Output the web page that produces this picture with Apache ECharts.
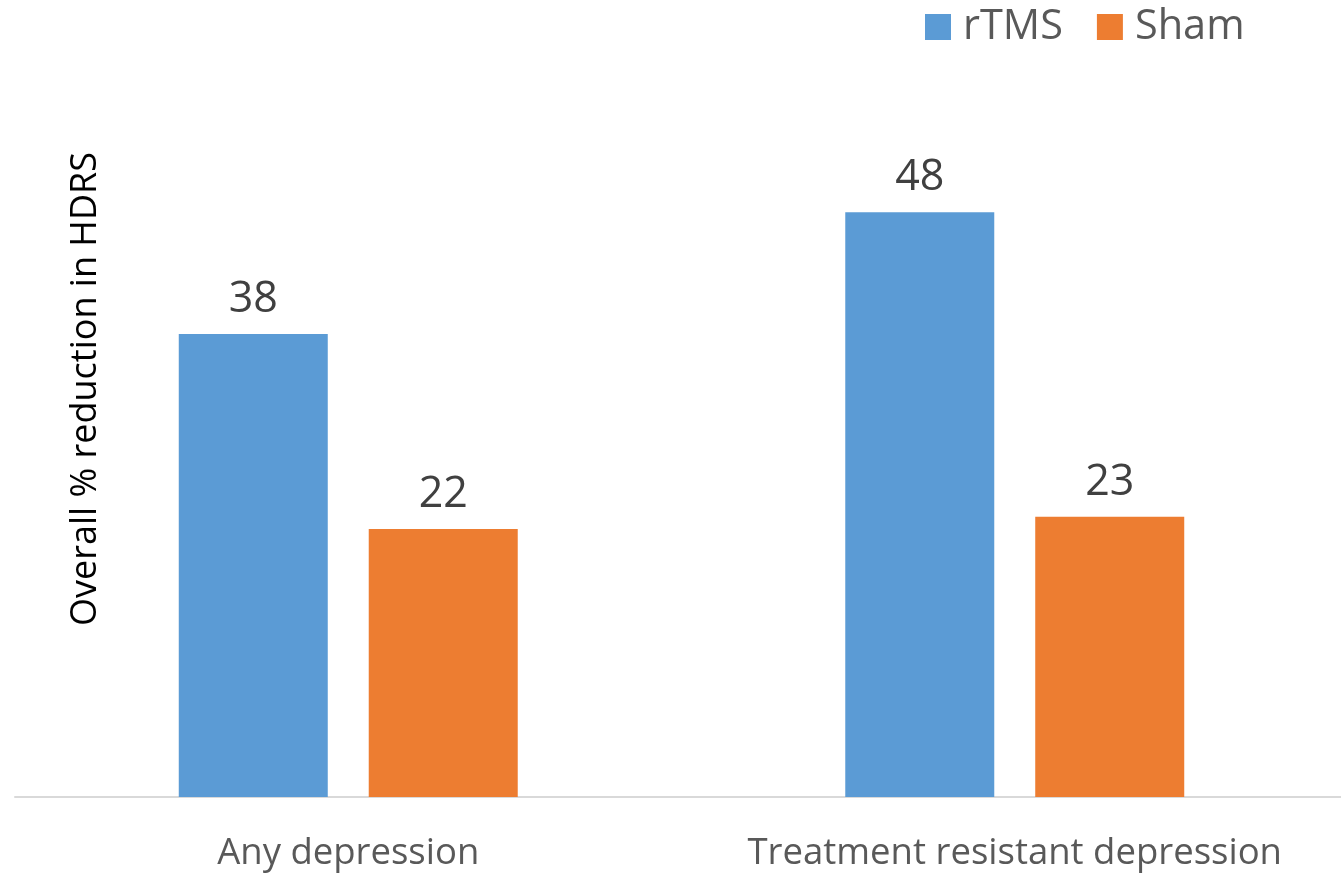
<!DOCTYPE html>
<html>
<head>
<meta charset="utf-8">
<title>rTMS vs Sham</title>
<script src="https://cdn.jsdelivr.net/npm/echarts@6/dist/echarts.min.js"></script>
<style>
  html, body { margin: 0; padding: 0; background: #ffffff; }
  #chart { width: 1341px; height: 873px; }
</style>
</head>
<body>
<div id="chart"></div>
<script>
// Groups along the x axis
const categories = ['Any depression', 'Treatment resistant depression'];
// Overall % reduction in HDRS per group
const rtmsValues = [38, 48];
const shamValues = [22, 23];
const seriesNames = ['rTMS', 'Sham'];
const yTitle = 'Overall % reduction in HDRS';

const FONT = '"Open Sans", "Liberation Sans", sans-serif';

const chart = echarts.init(document.getElementById('chart'), null, { renderer: 'canvas' });

const valueLabel = {
  show: true,
  position: 'top',
  distance: 13,
  fontFamily: FONT,
  fontSize: 43,
  color: '#404040'
};

chart.setOption({
  animation: false,
  backgroundColor: '#ffffff',
  grid: {
    left: 15, right: -7, top: 66, bottom: 76,
    containLabel: false,
    outerBoundsMode: 'none'
  },
  legend: {
    data: seriesNames,
    left: 925,
    top: 6,
    padding: 0,
    icon: 'rect',
    itemWidth: 26,
    itemHeight: 26,
    itemGap: 34,
    textStyle: { fontFamily: FONT, fontSize: 41.5, color: '#595959', padding: [0, 0, 0, 7] }
  },
  xAxis: {
    type: 'category',
    data: categories,
    axisLine: { show: true, lineStyle: { color: '#d9d9d9', width: 2 } },
    axisTick: { show: false },
    axisLabel: { interval: 0, fontFamily: FONT, fontSize: 36.5, color: '#595959', margin: 38 }
  },
  yAxis: {
    type: 'value',
    min: 0,
    max: 60,
    show: false
  },
  graphic: [{
    type: 'text',
    x: 86,
    y: 389,
    rotation: Math.PI / 2,
    style: {
      text: yTitle,
      fontFamily: FONT,
      fontSize: 36,
      fill: '#000000',
      align: 'center',
      verticalAlign: 'middle'
    }
  }],
  series: [
    {
      name: seriesNames[0],
      type: 'bar',
      data: rtmsValues,
      barWidth: 149,
      barGap: '27.5%',
      itemStyle: { color: '#5B9BD5' },
      label: valueLabel
    },
    {
      name: seriesNames[1],
      type: 'bar',
      data: shamValues,
      barWidth: 149,
      itemStyle: { color: '#ED7D31' },
      label: valueLabel
    }
  ]
});
</script>
</body>
</html>
